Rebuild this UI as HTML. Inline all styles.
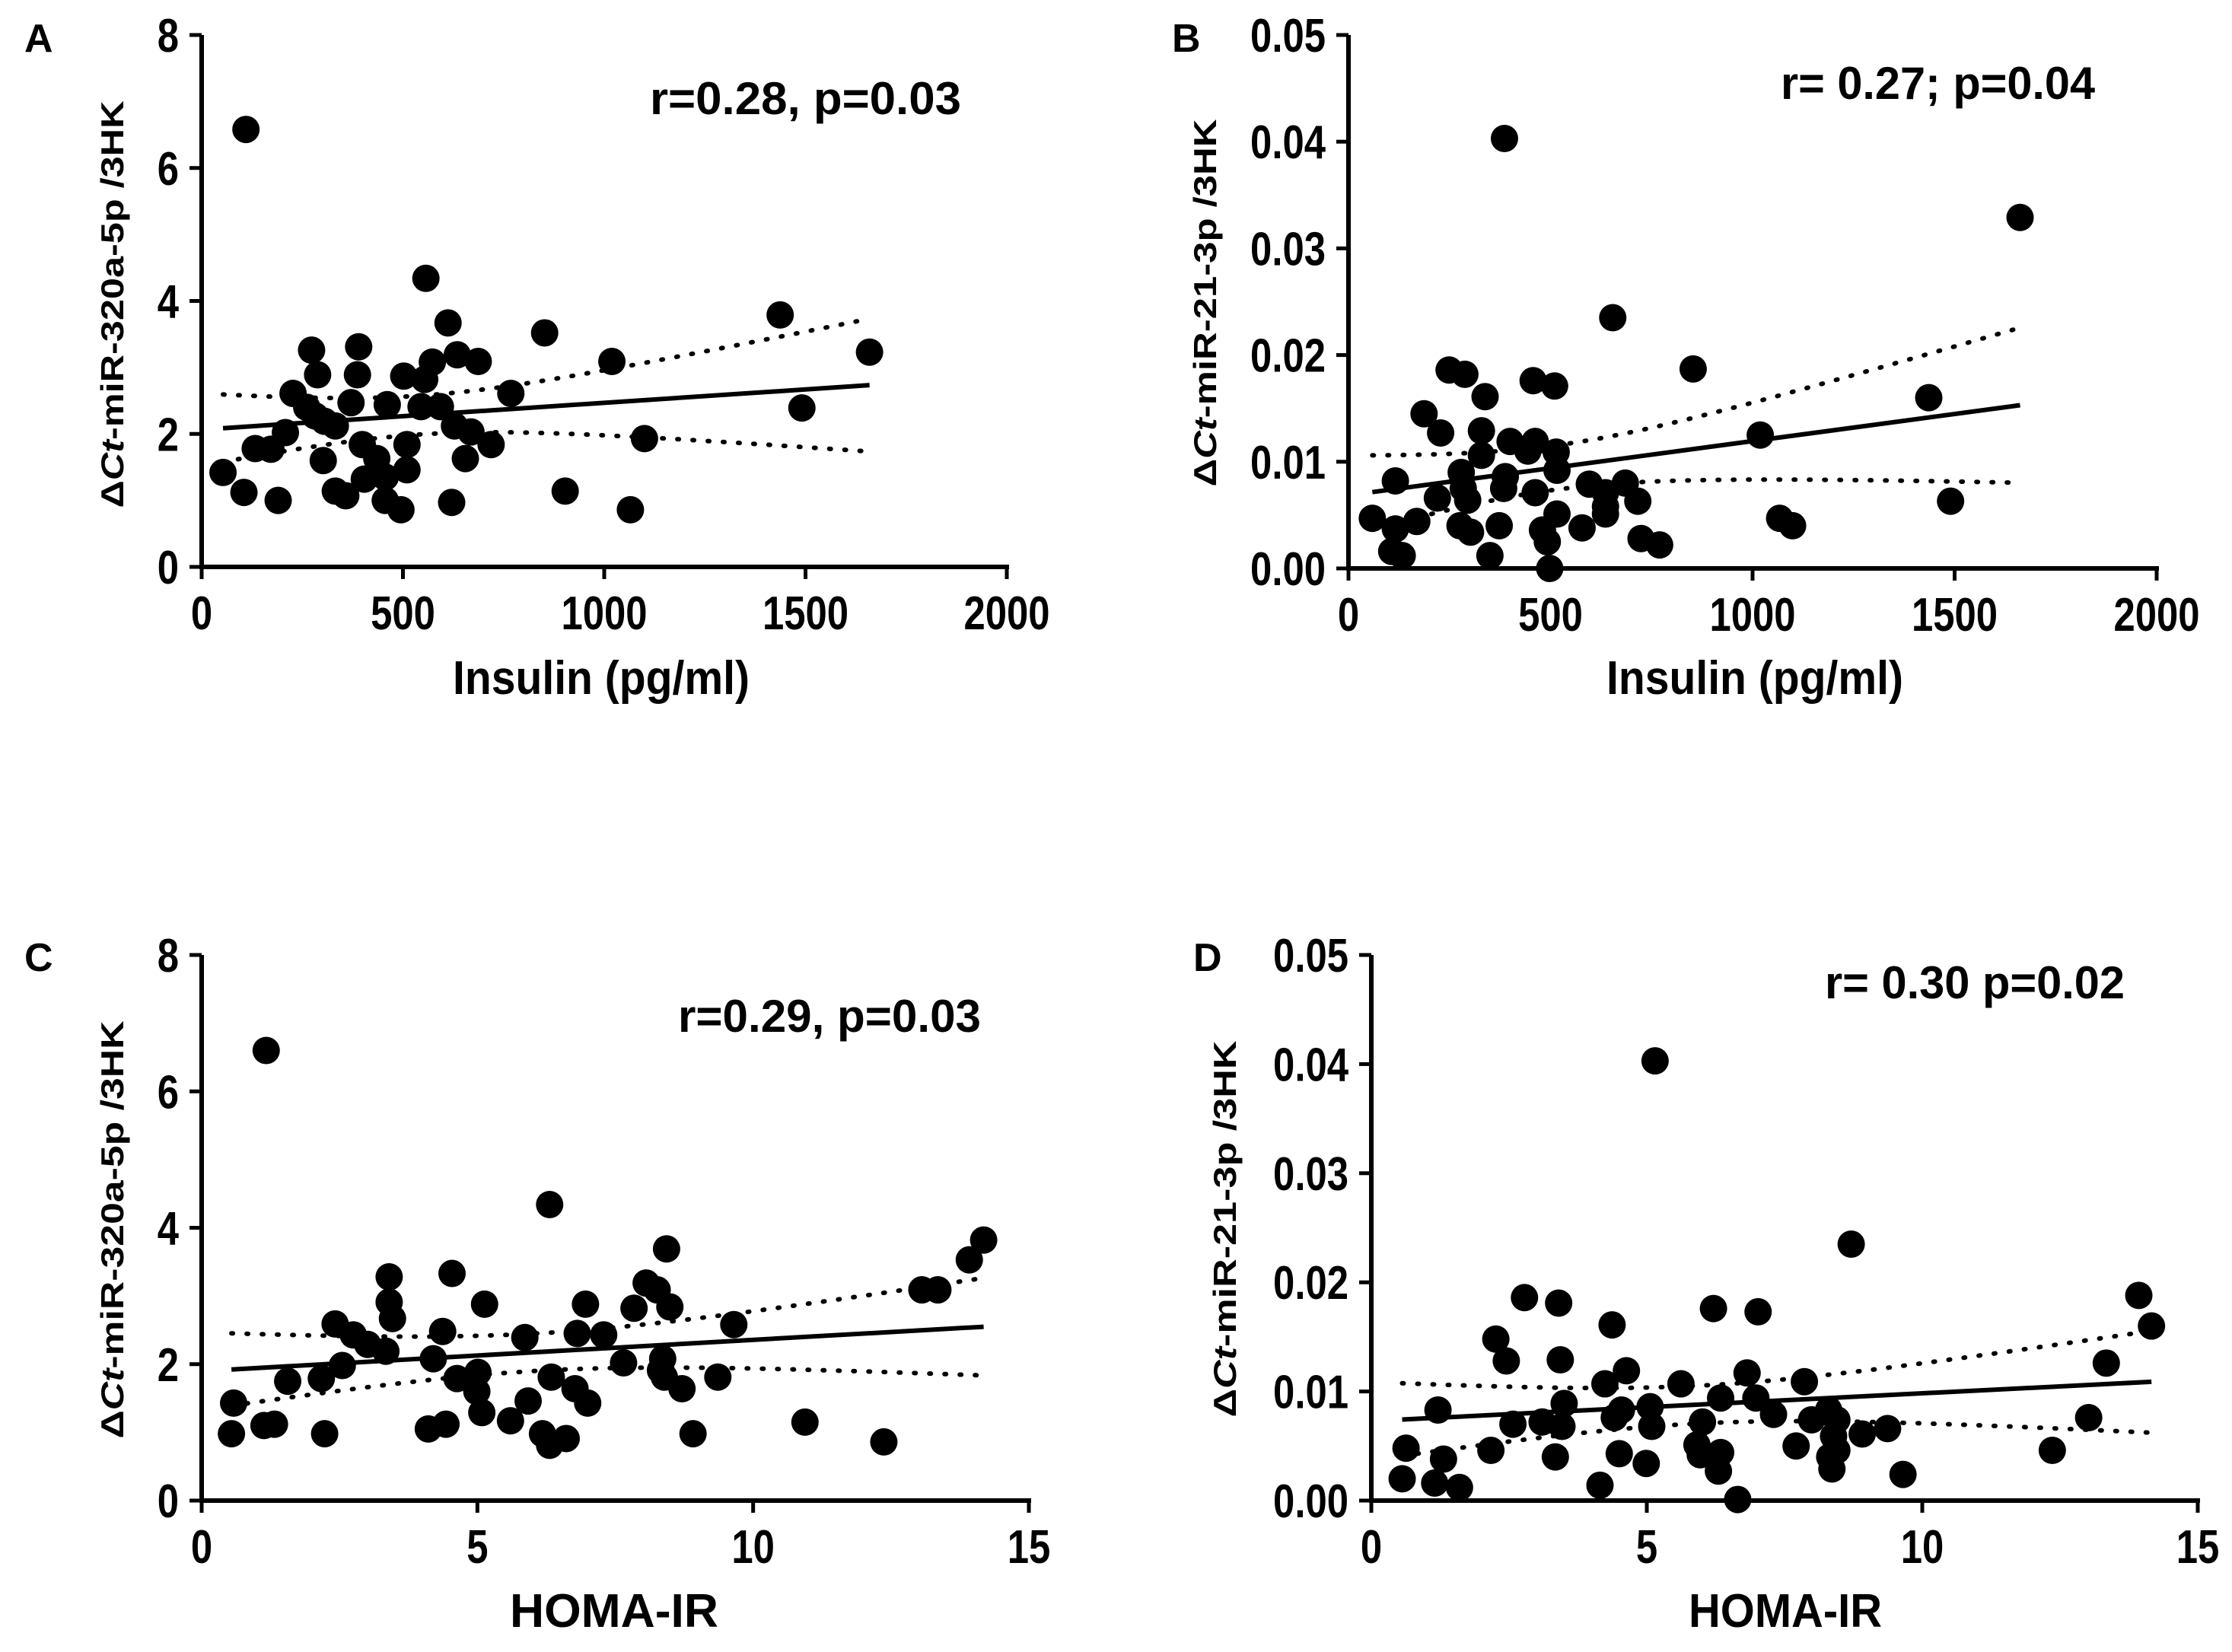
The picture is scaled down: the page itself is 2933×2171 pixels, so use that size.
<!DOCTYPE html>
<html><head><meta charset="utf-8"><style>
html,body{margin:0;padding:0;background:#fff;}
svg{display:block;}
text{font-family:"Liberation Sans Narrow","Liberation Sans",sans-serif;font-weight:bold;fill:#000;}
.yt{font-family:"Liberation Sans",sans-serif;}
</style></head><body>
<svg id="chart" width="2933" height="2171" viewBox="0 0 2933 2171" xmlns="http://www.w3.org/2000/svg"></svg>
<script>
// Panel A: Insulin vs miR-320a-5p
const aX=[110,557,612,1437,852,1659,273,390,635,687,1019,573,502,554,288,387,227,768,371,461,545,593,1491,261,282,305,332,208,1100,628,669,719,399,510,133,172,302,655,435,510,53,456,404,332,358,105,903,190,621,456,495,1065];
const aY=[6.58,4.34,3.67,3.79,3.52,3.23,3.26,3.31,3.19,3.09,3.09,3.08,2.87,2.82,2.89,2.89,2.61,2.61,2.47,2.44,2.41,2.41,2.39,2.40,2.27,2.19,2.12,2.02,1.93,2.12,2.03,1.84,1.84,1.84,1.78,1.77,1.60,1.63,1.63,1.46,1.42,1.35,1.32,1.14,1.07,1.12,1.14,1.00,0.97,1.00,0.86,0.86];
// Panel B: Insulin vs miR-21-3p
const bX=[386,1662,654,853,249,288,457,510,338,1436,187,228,1019,329,400,462,444,514,329,516,279,116,388,596,685,284,384,462,636,220,295,716,1490,636,59,169,636,516,1067,1099,578,373,276,116,480,302,492,724,770,107,133,350,498];
const bY=[0.0403,0.0329,0.0235,0.0187,0.0186,0.0182,0.0176,0.0171,0.0161,0.0160,0.0145,0.0127,0.0125,0.0129,0.0119,0.0119,0.0110,0.0109,0.0106,0.0092,0.0090,0.0082,0.0086,0.0079,0.0080,0.0075,0.0075,0.0071,0.0071,0.0066,0.0064,0.0063,0.0063,0.0058,0.0047,0.0044,0.0051,0.0051,0.0047,0.0040,0.0038,0.0040,0.0040,0.0037,0.0036,0.0034,0.0025,0.0028,0.0022,0.0016,0.0012,0.0012,0.0000];
// Panel C: HOMA-IR vs miR-320a-5p
const cX=[1.17,6.31,8.43,14.18,13.92,13.06,13.35,4.54,3.40,8.06,8.26,5.13,6.96,7.84,8.49,3.40,3.46,2.42,9.65,4.37,6.81,7.29,5.86,2.75,3.01,3.34,4.20,2.55,7.65,8.36,5.01,8.32,9.36,2.17,1.56,4.63,6.34,8.39,8.71,4.99,6.77,5.92,7.00,0.58,5.08,5.60,10.94,4.11,4.43,1.13,1.32,0.54,2.23,8.91,6.18,6.61,6.31,12.37];
const cY=[6.60,4.34,3.69,3.82,3.53,3.09,3.09,3.33,3.28,3.19,3.09,2.88,2.88,2.82,2.84,2.91,2.67,2.59,2.58,2.48,2.45,2.43,2.39,2.43,2.29,2.19,2.08,1.98,2.02,2.08,1.88,1.91,1.81,1.79,1.75,1.79,1.81,1.81,1.64,1.60,1.64,1.46,1.43,1.43,1.29,1.17,1.15,1.05,1.12,1.10,1.12,0.98,0.98,0.98,0.98,0.91,0.81,0.86];
// Panel D: HOMA-IR vs miR-21-3p
const dX=[5.15,8.71,13.93,14.16,2.78,3.40,6.21,7.02,4.37,2.26,2.45,3.43,13.34,4.63,6.82,4.24,5.62,7.86,6.34,6.98,3.50,1.21,4.54,5.06,8.30,7.30,4.41,6.01,7.99,8.45,13.02,2.57,3.10,3.46,5.09,8.91,9.37,0.63,2.17,4.50,5.91,7.71,8.39,12.36,5.97,6.34,8.45,1.31,3.34,4.99,8.32,8.36,6.30,0.56,1.15,9.65,1.60,4.15,6.65];
const dY=[0.0403,0.0235,0.0188,0.0160,0.0186,0.0181,0.0176,0.0173,0.0161,0.0148,0.0128,0.0129,0.0126,0.0119,0.0117,0.0107,0.0107,0.0109,0.0094,0.0094,0.0089,0.0083,0.0083,0.0086,0.0083,0.0079,0.0076,0.0072,0.0074,0.0074,0.0076,0.0070,0.0072,0.0068,0.0068,0.0061,0.0066,0.0048,0.0046,0.0043,0.0051,0.0050,0.0059,0.0046,0.0042,0.0044,0.0046,0.0038,0.0040,0.0034,0.0040,0.0029,0.0027,0.0020,0.0016,0.0024,0.0012,0.0014,0.0001];
// tick labels
const insulinTicks=[0,500,1000,1500,2000];
const homaTicks=[0,5,10,15];
const y320Ticks=[0,2,4,6,8];
const y21Ticks=[0,0.01,0.02,0.03,0.04,0.05];
const y21Labels=["0.00","0.01","0.02","0.03","0.04","0.05"];
const annotA="r=0.28, p=0.03", annotB="r= 0.27; p=0.04", annotC="r=0.29, p=0.03", annotD="r= 0.30 p=0.02";

const NS="http://www.w3.org/2000/svg";
const svg=document.getElementById('chart');
function mk(tag,attrs,parent){const e=document.createElementNS(NS,tag);for(const k in attrs)e.setAttribute(k,attrs[k]);(parent||svg).appendChild(e);return e;}

function panel(o){
  const g=mk('g',{});
  
  
  const sx=v=>o.x0+(v-o.xmin)/(o.xmax-o.xmin)*(o.x1-o.x0);
  const sy=v=>o.y0-(v-o.ymin)/(o.ymax-o.ymin)*(o.y0-o.y1);
  const ya=mk('line',{x1:o.x0,y1:o.y0+3,x2:o.x0,y2:o.y1,stroke:'#000','stroke-width':6},g);
  
  
  const xa=mk('line',{x1:o.x0-3,y1:o.y0,x2:o.x1+3,y2:o.y0,stroke:'#000','stroke-width':6},g);
  
  
  o.xt.forEach(v=>{
    mk('line',{x1:sx(v),y1:o.y0,x2:sx(v),y2:o.y0+16,stroke:'#000','stroke-width':5},g);
    const t=mk('text',{x:0,y:0,'text-anchor':'middle','font-size':62,transform:`translate(${sx(v)},${o.y0+82}) scale(0.82,1)`},g);
    t.textContent=String(v);
    
    
  });
  o.yt.forEach((v,i)=>{
    mk('line',{x1:o.x0-16,y1:sy(v),x2:o.x0,y2:sy(v),stroke:'#000','stroke-width':5},g);
    const t=mk('text',{x:0,y:0,'text-anchor':'end','font-size':62,transform:`translate(${o.x0-30},${sy(v)+22}) scale(0.82,1)`},g);
    t.textContent=o.yl?o.yl[i]:String(v);
    
    
  });
  const X=o.X,Y=o.Y,n=X.length;
  let mx=0,my=0;for(let i=0;i<n;i++){mx+=X[i];my+=Y[i];}mx/=n;my/=n;
  let sxx=0,sxy=0;for(let i=0;i<n;i++){sxx+=(X[i]-mx)**2;sxy+=(X[i]-mx)*(Y[i]-my);}
  const b=sxy/sxx,a=my-b*mx;
  let sse=0;for(let i=0;i<n;i++){sse+=(Y[i]-a-b*X[i])**2;}
  const s=Math.sqrt(sse/(n-2)),tq=2.0;
  const lo=Math.min(...X),hi=Math.max(...X);
  let up='',dn='';
  for(let k=0;k<=40;k++){const x=lo+(hi-lo)*k/40;const se=s*Math.sqrt(1/n+(x-mx)**2/sxx);const yh=a+b*x;
    up+=(k?'L':'M')+sx(x).toFixed(1)+' '+sy(yh+tq*se).toFixed(1);
    dn+=(k?'L':'M')+sx(x).toFixed(1)+' '+sy(yh-tq*se).toFixed(1);}
  const cu=mk('path',{d:up,fill:'none',stroke:'#000','stroke-width':6,'stroke-dasharray':'2 18','stroke-linecap':'round'},g);
  
  
  const cd=mk('path',{d:dn,fill:'none',stroke:'#000','stroke-width':6,'stroke-dasharray':'2 18','stroke-linecap':'round'},g);
  
  
  for(let i=0;i<n;i++){
    const c=mk('circle',{cx:sx(X[i]),cy:sy(Y[i]),r:18,fill:'#000'},g);
    
    
  }
  const rl=mk('line',{x1:sx(lo),y1:sy(a+b*lo),x2:sx(hi),y2:sy(a+b*hi),stroke:'#000','stroke-width':6},g);
  
  
  const L=mk('text',{x:o.lx,y:o.ly,'font-size':52,'font-family':'Liberation Sans'},g);
  L.textContent=o.id;
  
  
  const an=mk('text',{x:o.ax,y:o.ay,'font-size':60,textLength:o.aw,lengthAdjust:'spacingAndGlyphs'},g);
  an.textContent=o.annot;
  
  
  const xt=mk('text',{x:o.xtx,y:o.xty,'font-size':62,'text-anchor':'middle',textLength:o.xtw,lengthAdjust:'spacingAndGlyphs'},g);
  xt.textContent=o.xtitle;
  
  
  const yt=mk('text',{class:'yt',x:0,y:0,'font-size':42,'text-anchor':'middle',textLength:o.ytw,lengthAdjust:'spacingAndGlyphs',transform:`translate(${o.ytx},${o.yty}) rotate(-90)`},g);
  yt.innerHTML='\u0394<tspan font-style="italic">Ct</tspan>-'+o.ytitle;
  
  
}

panel({id:'A',X:aX,Y:aY,xmin:0,xmax:2000,ymin:0,ymax:8,x0:265,x1:1323,y0:745,y1:46,xt:insulinTicks,yt:y320Ticks,
  lx:32,ly:68,annot:annotA,ax:854,ay:150,aw:409,xtitle:'Insulin (pg/ml)',xtx:790,xty:912,xtw:390,ytitle:'miR-320a-5p /3HK',ytx:162,yty:400,ytw:535});
panel({id:'B',X:bX,Y:bY,xmin:0,xmax:2000,ymin:0,ymax:0.05,x0:1772,x1:2834,y0:747,y1:46,xt:insulinTicks,yt:y21Ticks,yl:y21Labels,
  lx:1540,ly:68,annot:annotB,ax:2340,ay:130,aw:413,xtitle:'Insulin (pg/ml)',xtx:2306,xty:912,xtw:390,ytitle:'miR-21-3p /3HK',ytx:1598,yty:398,ytw:483});
panel({id:'C',X:cX,Y:cY,xmin:0,xmax:15,ymin:0,ymax:8,x0:265,x1:1352,y0:1972,y1:1255,xt:homaTicks,yt:y320Ticks,
  lx:32,ly:1276,annot:annotC,ax:891,ay:1356,aw:398,xtitle:'HOMA-IR',xtx:807,xty:2138,xtw:274,ytitle:'miR-320a-5p /3HK',ytx:162,yty:1616,ytw:549});
panel({id:'D',X:dX,Y:dY,xmin:0,xmax:15,ymin:0,ymax:0.05,x0:1802,x1:2888,y0:1972,y1:1255,xt:homaTicks,yt:y21Ticks,yl:y21Labels,
  lx:1568,ly:1276,annot:annotD,ax:2398,ay:1312,aw:394,xtitle:'HOMA-IR',xtx:2346,xty:2138,xtw:254,ytitle:'miR-21-3p /3HK',ytx:1624,yty:1615,ytw:495});
</script>
</body></html>
